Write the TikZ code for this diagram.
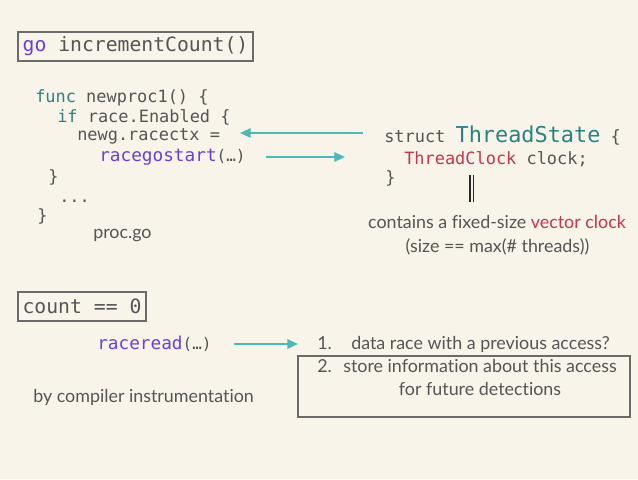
\documentclass[tikz,border=0pt]{standalone}
\usepackage{fontspec}
\setmainfont{Lato}[Ligatures=NoCommon]
\setmonofont{DejaVu Sans Mono}
\usetikzlibrary{arrows.meta}
\definecolor{bg}{HTML}{F8F4EA}
\definecolor{txt}{HTML}{555555}
\definecolor{kw}{HTML}{2A8282}
\definecolor{purp}{HTML}{6A40D4}
\definecolor{redc}{HTML}{C4344E}
\definecolor{arr}{HTML}{4DB8B6}
\definecolor{boxc}{HTML}{6A6A6A}
\tikzset{
  code/.style={anchor=mid west, inner sep=0pt, yshift=-1.8pt, font=\fontsize{12.7}{14}\selectfont\ttfamily, text=txt},
  body/.style={anchor=mid west, inner sep=0pt, yshift=-1.8pt, font=\fontsize{13.4}{15}\selectfont, text=txt},
  framebox/.style={draw=boxc, line width=0.9pt, inner sep=0pt},
  tealarrow/.style={draw=arr, line width=1.6pt, -{Triangle[length=8pt,width=7pt]}},
}
\begin{document}
\begin{tikzpicture}[x=0.75pt,y=-0.75pt]
\fill[bg] (0,0) rectangle (638,479);
\useasboundingbox (0,0) rectangle (638,479);

% top box
\node[framebox, minimum width=176.25pt, minimum height=21.75pt, font=\fontsize{14.8}{16}\selectfont\ttfamily, text=txt] (gobox) at (135.5,46.5) {\textcolor{purp}{go} incrementCount()};

% code
\node[code] (l1) at (35,97) {\textcolor{kw}{func} newproc1() \{};
\node[code] (l2) at (57,117) {\textcolor{kw}{if} race.Enabled \{};
\node[code] (l3) at (77,135) {newg.racectx =};
\node[code, font=\fontsize{13.3}{15}\selectfont\ttfamily, text=purp] (l4) at (99,156) {racegostart\textcolor{txt}{\fontsize{12}{14}\selectfont(…)}};
\node[code] (l5) at (48,177) {\}};
\node[code] (l6) at (59,197) {...};
\node[code] (l7) at (37,216) {\}};
\node[body] (procgo) at (93,233) {proc.go};

% struct
\node[code] (s1) at (384,137) {struct \textcolor{kw}{\fontsize{16.4}{18}\selectfont ThreadState} \{};
\node[code] (s2) at (404,159) {\textcolor{redc}{ThreadClock} clock;};
\node[code] (s3) at (385,178) {\}};

% arrows
\coordinate (a1s) at (363,133);
\coordinate (a1e) at (240,133);
\coordinate (a2s) at (266,157);
\coordinate (a2e) at (345,157);
\draw[tealarrow] (a1s) -- (a1e);
\draw[tealarrow] (a2s) -- (a2e);

% double line
\coordinate (d1t) at (470,175);
\coordinate (d1b) at (470,202);
\coordinate (d2t) at (473.5,175);
\coordinate (d2b) at (473.5,202);
\draw[line width=0.8pt, black!85] (d1t) -- (d1b);
\draw[line width=0.8pt, black!85] (d2t) -- (d2b);

\node[body, anchor=mid] (vc1) at (497,223) {contains a fixed-size \textcolor{redc}{vector clock}};
\node[body, anchor=mid] (vc2) at (497.5,247) {(size == max(\# threads))};

% bottom
\node[framebox, minimum width=96pt, minimum height=21.75pt, font=\fontsize{14.8}{16}\selectfont\ttfamily, text=txt] (countbox) at (82,306.5) {count == 0};
\node[code, font=\fontsize{13.3}{15}\selectfont\ttfamily, text=purp] (rr) at (97,344) {raceread\textcolor{txt}{\fontsize{12}{14}\selectfont(…)}};
\coordinate (a3s) at (234,344);
\coordinate (a3e) at (298,344);
\draw[tealarrow] (a3s) -- (a3e);

\node[body] (n1) at (317,344) {1.};
\node[body] (t1) at (351,344) {data race with a previous access?};
\node[framebox, minimum width=249pt, minimum height=45.75pt] (infobox) at (464,386.5) {};
\node[body] (n2) at (317,367) {2.};
\node[body] (t2) at (343,367) {store information about this access};
\node[body, anchor=mid] (t3) at (480,390) {for future detections};
\node[body] (bci) at (33,397) {by compiler instrumentation};
\end{tikzpicture}
\end{document}
